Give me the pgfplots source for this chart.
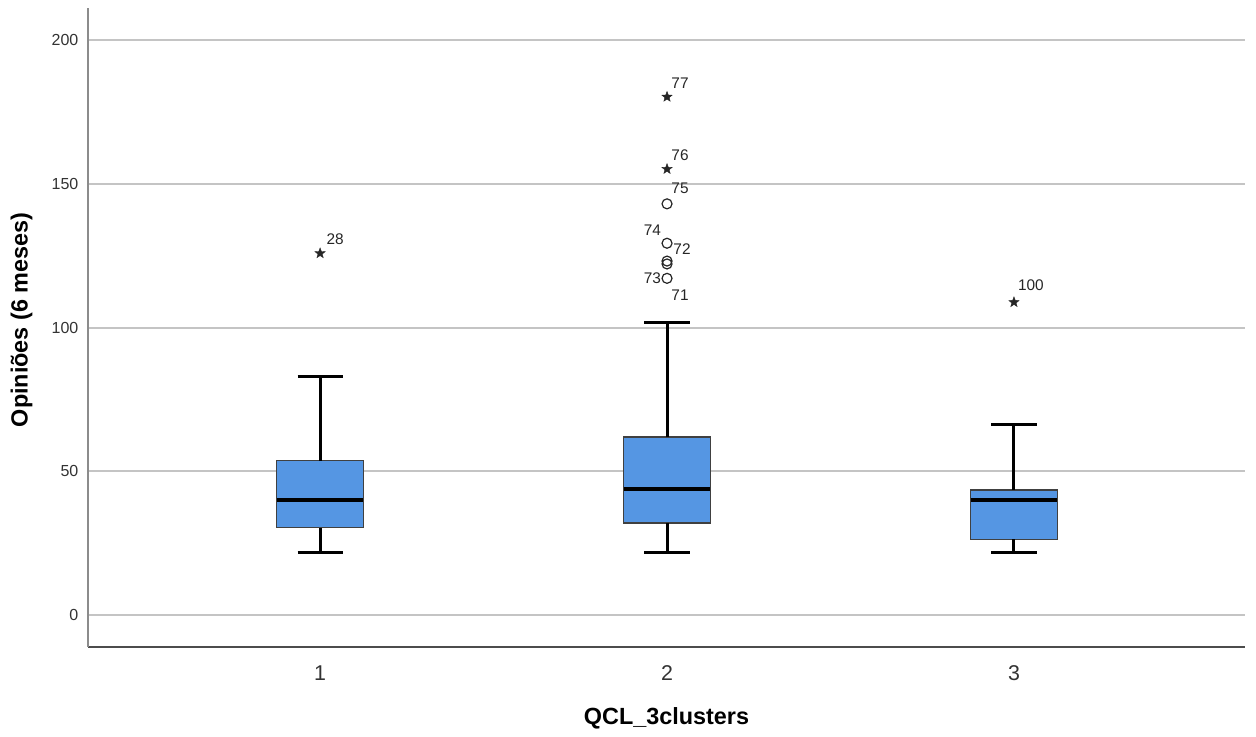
\documentclass[border=0pt]{standalone}
\usepackage{pgfplots}
\pgfplotsset{compat=1.18}
\usepackage{fontspec}
\setmainfont{Liberation Sans}
\definecolor{boxblue}{HTML}{5596E3}
\definecolor{gridgray}{HTML}{C4C4C4}
\pgfdeclareplotmark{fstar}{%
 \pgfpathmoveto{\pgfpointpolar{90}{\pgfplotmarksize}}%
 \pgfpathlineto{\pgfpointpolar{126}{0.42\pgfplotmarksize}}%
 \pgfpathlineto{\pgfpointpolar{162}{\pgfplotmarksize}}%
 \pgfpathlineto{\pgfpointpolar{198}{0.42\pgfplotmarksize}}%
 \pgfpathlineto{\pgfpointpolar{234}{\pgfplotmarksize}}%
 \pgfpathlineto{\pgfpointpolar{270}{0.42\pgfplotmarksize}}%
 \pgfpathlineto{\pgfpointpolar{306}{\pgfplotmarksize}}%
 \pgfpathlineto{\pgfpointpolar{342}{0.42\pgfplotmarksize}}%
 \pgfpathlineto{\pgfpointpolar{18}{\pgfplotmarksize}}%
 \pgfpathlineto{\pgfpointpolar{54}{0.42\pgfplotmarksize}}%
 \pgfpathclose
 \pgfusepathqfillstroke}
\pgfplotsset{
 boxs/.style={fill=boxblue, draw=black!75, line width=0.75pt, mark=none},
 whisk/.style={draw=black, line width=1.5pt, mark=none},
 med/.style={draw=black, line width=2pt, mark=none},
}
\tikzset{olab/.style={font=\fontsize{7.7}{7.7}\selectfont, text=black!85}}
\begin{document}
\begin{tikzpicture}
\begin{axis}[
 scale only axis, width=578.5pt, height=319.5pt,
 xmin=0.331, xmax=3.666, ymin=-11.1, ymax=211.1,
 axis x line*=bottom, axis y line*=left,
 axis line style={-},
 x axis line style={draw=black!70, line width=0.7pt},
 y axis line style={draw=black!45, line width=1pt},
 xtick={1,2,3}, xticklabels={1,2,3},
 ytick={0,50,100,150,200},
 xtick style={draw=none}, ytick style={draw=none},
 ymajorgrids, major grid style={draw=gridgray, line width=1pt},
 /pgf/number format/assume math mode=true,
 yticklabel style={font=\fontsize{8}{8}\selectfont, text=black!80, xshift=-1.3pt},
 xticklabel style={font=\fontsize{10.7}{10.7}\selectfont, text=black!80, anchor=base, yshift=-16.5pt},
 ylabel={Opiniões (6 meses)}, xlabel={QCL\_3clusters},
 label style={font=\bfseries\fontsize{11.7}{11.7}\selectfont},
 ylabel style={at={(axis description cs:-0.0575,0.512)}, anchor=center},
 xlabel style={at={(axis description cs:0.5,-0.111)}, anchor=center},
]
% group 1
\addplot[boxs] coordinates {(0.875,30.4) (1.125,30.4) (1.125,53.7) (0.875,53.7)} -- cycle;
\addplot[med] coordinates {(0.875,40) (1.125,40)};
\addplot[whisk] coordinates {(1,53.7) (1,83.1)};
\addplot[whisk] coordinates {(1,30.4) (1,21.8)};
\addplot[whisk] coordinates {(0.935,83.1) (1.065,83.1)};
\addplot[whisk] coordinates {(0.935,21.8) (1.065,21.8)};
% group 2
\addplot[boxs] coordinates {(1.875,32) (2.125,32) (2.125,61.9) (1.875,61.9)} -- cycle;
\addplot[med] coordinates {(1.875,43.8) (2.125,43.8)};
\addplot[whisk] coordinates {(2,61.9) (2,101.9)};
\addplot[whisk] coordinates {(2,32) (2,21.9)};
\addplot[whisk] coordinates {(1.935,101.9) (2.065,101.9)};
\addplot[whisk] coordinates {(1.935,21.9) (2.065,21.9)};
% group 3
\addplot[boxs] coordinates {(2.875,26.3) (3.125,26.3) (3.125,43.5) (2.875,43.5)} -- cycle;
\addplot[med] coordinates {(2.875,40) (3.125,40)};
\addplot[whisk] coordinates {(3,43.5) (3,66.1)};
\addplot[whisk] coordinates {(3,26.3) (3,21.8)};
\addplot[whisk] coordinates {(2.935,66.1) (3.065,66.1)};
\addplot[whisk] coordinates {(2.935,21.8) (3.065,21.8)};
% outliers
\addplot[only marks, mark=o, mark size=2.5pt, mark options={draw=black!85, line width=0.6pt, fill=none}] coordinates {(2,143) (2,129.3) (2,123.1) (2,122.1) (2,117.1)};
\addplot[only marks, mark=fstar, mark size=2.7pt, mark options={draw=black!85, fill=black!85, line width=0.2pt}] coordinates {(1,125.8) (2,180.2) (2,155.1) (3,108.8)};
\node[olab, xshift=7.5pt, yshift=7pt] at (axis cs:1,125.8) {28};
\node[olab, xshift=6.5pt, yshift=6.9pt] at (axis cs:2,180.2) {77};
\node[olab, xshift=6.5pt, yshift=6.7pt] at (axis cs:2,155.1) {76};
\node[olab, xshift=6.5pt, yshift=7.7pt] at (axis cs:2,143) {75};
\node[olab, xshift=-7.3pt, yshift=6.7pt] at (axis cs:2,129.3) {74};
\node[olab, xshift=7.5pt, yshift=-3pt] at (axis cs:2,129.3) {72};
\node[olab, xshift=-7.3pt, yshift=0pt] at (axis cs:2,117.1) {73};
\node[olab, xshift=6.5pt, yshift=-8.3pt] at (axis cs:2,117.1) {71};
\node[olab, xshift=8.5pt, yshift=8.3pt] at (axis cs:3,108.8) {100};
\end{axis}
\pgfresetboundingbox
\useasboundingbox ([xshift=-44pt,yshift=-44.5pt]current axis.south west) rectangle ([xshift=5.5pt,yshift=4pt]current axis.north east);
\end{tikzpicture}
\end{document}
